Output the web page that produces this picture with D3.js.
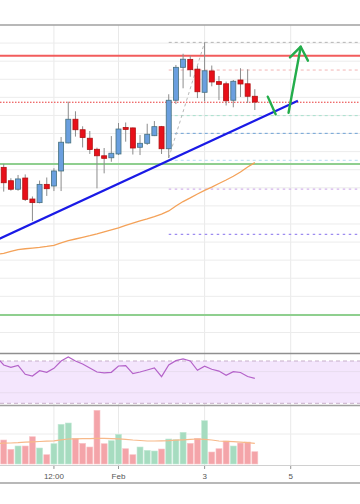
<!DOCTYPE html>
<html><head><meta charset="utf-8">
<script src="https://cdn.jsdelivr.net/npm/d3@7"></script>
<style>html,body{margin:0;padding:0;background:#fff;} svg{display:block;font-family:"Liberation Sans","DejaVu Sans",Arial,sans-serif;}</style>
</head><body><svg id="c" width="360" height="504"></svg>
<script>
// ---- data (4h candles, starting 2023-01-29 04:00 UTC) ----
const firstCandle = "2023-01-29T04:00:00Z";
const viewStart = "2023-01-29T05:56:00Z";
const viewEnd = "2023-02-06T14:38:00Z";
const openP  = [1608.0,1621.3,1613.9,1609.2,1615.4,1603.8,1601.8,1611.9,1611.0,1619.3,1634.8,1647.9,1642.1,1637.4,1631.3,1627.7,1626.6,1628.7,1643.3,1643.1,1632.4,1634.6,1638.8,1643.8,1631.6,1658.4,1676.6,1681.0,1675.6,1662.8,1674.6,1668.7,1667.5,1658.4,1669.6,1667.5,1660.6];
const highP  = [1624.0,1623.2,1615.3,1617.1,1617.4,1605.2,1614.0,1615.7,1620.8,1638.1,1657.6,1652.3,1644.0,1641.4,1632.2,1632.0,1638.6,1645.8,1646.1,1643.3,1639.2,1645.4,1646.9,1644.2,1661.7,1677.9,1684.1,1683.0,1677.3,1690.4,1677.6,1671.8,1668.7,1669.6,1676.1,1675.5,1664.5];
const lowP   = [1606.0,1607.9,1608.4,1608.4,1602.7,1591.6,1601.4,1605.5,1608.2,1608.2,1634.6,1638.3,1632.3,1628.7,1609.7,1618.0,1624.4,1628.1,1635.5,1628.4,1628.1,1633.7,1638.6,1628.7,1626.5,1656.3,1665.0,1671.4,1659.6,1657.8,1666.1,1658.5,1655.5,1654.5,1660.2,1656.9,1653.0];
const closeP = [1621.3,1612.8,1609.2,1614.9,1603.6,1601.8,1611.9,1609.5,1619.3,1635.2,1647.9,1642.1,1637.8,1631.2,1627.7,1626.3,1629.1,1642.5,1642.3,1632.0,1634.6,1639.6,1643.8,1631.6,1658.4,1676.6,1681.1,1675.3,1663.1,1674.7,1668.5,1667.2,1658.1,1668.9,1667.4,1660.6,1657.4];
const priceMA = [1573.2,1573.8,1574.8,1575.8,1576.3,1576.7,1577.1,1577.6,1578.2,1579.5,1580.8,1581.7,1582.6,1583.5,1584.5,1585.6,1586.7,1587.8,1589.2,1590.5,1591.7,1592.8,1594.1,1595.5,1597.2,1599.9,1602.4,1604.4,1606.6,1608.6,1610.4,1612.4,1614.3,1616.4,1618.7,1621.5,1623.9];
const volume = [30,24,14.7,18,18,27.3,16,9.3,20.3,39.7,41,25.7,20.7,17,53.7,20.3,23.3,29.7,15.3,9.3,17,13.7,13,15,25,24.3,31.7,20.7,25.7,43.3,12,15.3,23,18,21,22,12.3];
const volumeMA = [20.6,20.8,21.0,21.3,21.8,22.2,22.5,22.8,23.2,24.2,25.0,25.1,25.3,25.4,25.6,25.6,25.4,25.2,24.7,24.0,23.5,23.0,23.0,23.2,23.4,23.8,24.2,24.6,25.0,24.7,24.0,23.0,22.6,22.3,21.8,21.3,20.7];
const rsi = [73.8,66.2,64.0,65.9,57.4,55.8,60.8,59.3,63.1,70.0,73.8,70.0,67.2,63.4,59.6,58.7,59.3,65.3,65.6,58.0,59.6,61.5,63.4,55.2,66.2,70.3,71.9,70.0,61.2,65.0,62.2,60.5,56.5,59.9,59.1,55.3,53.6];
const tickDates = ["2023-01-30T12:00:00Z","2023-02-01T00:00:00Z","2023-02-03T00:00:00Z","2023-02-05T00:00:00Z"];
const tickLabels = ["12:00","Feb","3","5"];
const priceGrid = [1530,1540,1550,1560,1570,1580,1590,1600,1610,1620,1630,1640,1650,1660,1670,1680,1690];
// horizontal levels: price, colour, width, dash, start candle index (null = full width)
const levelPrice = [1690.4,1683.0,1675.1,1657.3,1649.9,1640.1,1625.2,1623.2,1609.3,1584.3,1539.7];
const levelColor = ["#b4b4b4","#f25c5c","#f2b4b4","#e83838","#a6e0cc","#6ea2d6","#b4dcf2","#8fcf8f","#d4b4ec","#9d8cf0","#8fcf8f"];
const levelWidth = [1,2,1,1,1,1,1,2,1.2,1.2,2];
const levelDash  = ["3,3",null,"3,3","1.5,1.5","3,3","3,3","3,3",null,"2.5,3.5","2.5,3.5",null];
const levelFrom  = [24,null,24,null,24,24,24,null,24,24,null];
// trend line (candle index, price)
const trendIdx = [0, 42];
const trendPrice = [1581.1, 1658.1];
// fib diagonal
const fibIdx = [24, 29];
const fibPrice = [1626.5, 1690.4];
// green arrow strokes (candle index, price)
const arrowA = [[37.8,1660.4],[38.9,1650.6]];
const arrowB = [[40.7,1651.5],[42.4,1688.0]];
const arrowHead = [[40.9,1682.1],[42.4,1688.0],[43.4,1680.3]];
const rsiGrid = [40,60];

// ---- scales ----
const W = 360;
const H4 = 4*3600*1000;
const t0 = new Date(firstCandle).getTime();
const tAt = i => new Date(t0 + i*H4);
const data = openP.map((o,i)=>({t:tAt(i),o,h:highP[i],l:lowP[i],c:closeP[i],ma:priceMA[i],v:volume[i],vma:volumeMA[i],rsi:rsi[i]}));

const x = d3.scaleUtc().domain([new Date(viewStart), new Date(viewEnd)]).range([0, W]);
const y = d3.scaleLinear().domain([1520,1700]).range([350.6,25]);
const vy = d3.scaleLinear().domain([0,58.7]).range([464,405.3]);
const ry = d3.scaleLinear().domain([30,70]).range([403.3,361]);

const svg = d3.select("#c");
const defs = svg.append("defs");
defs.append("clipPath").attr("id","mainClip").append("rect").attr("x",0).attr("y",25).attr("width",W).attr("height",327);
defs.append("clipPath").attr("id","rsiClip").append("rect").attr("x",0).attr("y",354).attr("width",W).attr("height",51);
defs.append("clipPath").attr("id","volClip").append("rect").attr("x",0).attr("y",406).attr("width",W).attr("height",60);

// vertical grid
svg.append("g").selectAll("line").data(tickDates).join("line")
  .attr("x1",d=>x(new Date(d))).attr("x2",d=>x(new Date(d)))
  .attr("y1",25).attr("y2",468).attr("stroke","#e9e9e9").attr("stroke-width",1);

// ---- main panel ----
const main = svg.append("g").attr("clip-path","url(#mainClip)");
main.append("g").selectAll("line").data(priceGrid).join("line")
  .attr("x1",0).attr("x2",W).attr("y1",d=>y(d)).attr("y2",d=>y(d))
  .attr("stroke","#ececec").attr("stroke-width",1);

levelPrice.forEach((p,k)=>{
  main.append("line")
    .attr("x1", levelFrom[k]===null ? 0 : x(tAt(levelFrom[k])))
    .attr("x2", W).attr("y1", y(p)).attr("y2", y(p))
    .attr("stroke", levelColor[k]).attr("stroke-width", levelWidth[k])
    .attr("stroke-dasharray", levelDash[k]);
});

main.append("line")
  .attr("x1",x(tAt(fibIdx[0]))).attr("y1",y(fibPrice[0]))
  .attr("x2",x(tAt(fibIdx[1]))).attr("y2",y(fibPrice[1]))
  .attr("stroke","#b8b8b8").attr("stroke-width",1).attr("stroke-dasharray","3,3");

main.append("path").datum(data)
  .attr("d", d3.line().x(d=>x(d.t)).y(d=>y(d.ma)))
  .attr("fill","none").attr("stroke","#f4a259").attr("stroke-width",1.3);

main.append("line")
  .attr("x1",x(tAt(trendIdx[0]))).attr("y1",y(trendPrice[0]))
  .attr("x2",x(tAt(trendIdx[1]))).attr("y2",y(trendPrice[1]))
  .attr("stroke","#1a1ae6").attr("stroke-width",2.2);

const cg = main.append("g").selectAll("g").data(data).join("g");
cg.append("line")
  .attr("x1",d=>x(d.t)).attr("x2",d=>x(d.t))
  .attr("y1",d=>y(d.h)).attr("y2",d=>y(d.l))
  .attr("stroke","#8c8c8c").attr("stroke-width",1);
cg.append("rect")
  .attr("x",d=>x(d.t)-2.5).attr("width",5)
  .attr("y",d=>y(Math.max(d.o,d.c)))
  .attr("height",d=>Math.max(1.5, Math.abs(y(d.o)-y(d.c))))
  .attr("fill",d=>d.c>=d.o ? "#6a9fdf" : "#e8101a")
  .attr("stroke",d=>d.c>=d.o ? "#46707e" : "#b01010")
  .attr("stroke-width",0.8);

const arrowLine = d3.line().x(d=>x(tAt(d[0]))).y(d=>y(d[1]));
[arrowA, arrowB, arrowHead].forEach(pts=>{
  main.append("path").attr("d", arrowLine(pts))
    .attr("fill","none").attr("stroke","#23ad4b").attr("stroke-width",2.4)
    .attr("stroke-linecap","round").attr("stroke-linejoin","round");
});

// top border
svg.append("line").attr("x1",0).attr("x2",W).attr("y1",25).attr("y2",25).attr("stroke","#a0a0a0").attr("stroke-width",1.3);

// ---- RSI panel ----
const rg = svg.append("g").attr("clip-path","url(#rsiClip)");
rg.append("rect").attr("x",0).attr("width",W).attr("y",ry(70)).attr("height",ry(30)-ry(70)).attr("fill","#f4e6fd");
rg.selectAll("line.g").data(rsiGrid).join("line")
  .attr("x1",0).attr("x2",W).attr("y1",d=>ry(d)).attr("y2",d=>ry(d))
  .attr("stroke","#e8dcef").attr("stroke-width",1);
[70,30].forEach(v=>{
  rg.append("line").attr("x1",0).attr("x2",W).attr("y1",ry(v)).attr("y2",ry(v))
    .attr("stroke","#c6aec9").attr("stroke-width",1).attr("stroke-dasharray","4,3");
});
rg.append("path").datum(data)
  .attr("d", d3.line().x(d=>x(d.t)).y(d=>ry(d.rsi)))
  .attr("fill","none").attr("stroke","#b462c9").attr("stroke-width",1.2);
svg.append("line").attr("x1",0).attr("x2",W).attr("y1",353.5).attr("y2",353.5).attr("stroke","#8f8f8f").attr("stroke-width",1.5);
svg.append("line").attr("x1",0).attr("x2",W).attr("y1",405.5).attr("y2",405.5).attr("stroke","#a0a0a0").attr("stroke-width",1.3);

// ---- Volume panel ----
const vg = svg.append("g").attr("clip-path","url(#volClip)");
vg.append("line").attr("x1",0).attr("x2",W).attr("y1",vy(30)).attr("y2",vy(30)).attr("stroke","#ececec");
vg.selectAll("rect").data(data).join("rect")
  .attr("x",d=>x(d.t)-3).attr("width",6)
  .attr("y",d=>vy(d.v)).attr("height",d=>vy(0)-vy(d.v))
  .attr("fill",d=>d.c>=d.o ? "#a6dcc0" : "#f4a4a9")
  .attr("stroke",d=>d.c>=d.o ? "#c4e9d6" : "#f8c6c9").attr("stroke-width",0.6);
vg.append("path").datum(data)
  .attr("d", d3.line().x(d=>x(d.t)).y(d=>vy(d.vma)))
  .attr("fill","none").attr("stroke","#f7b98a").attr("stroke-width",1.2);
svg.append("line").attr("x1",0).attr("x2",W).attr("y1",465.5).attr("y2",465.5).attr("stroke","#d0d0d0").attr("stroke-width",1);

// ---- x axis ----
const xa = svg.append("g");
xa.selectAll("line").data(tickDates).join("line")
  .attr("x1",d=>x(new Date(d))).attr("x2",d=>x(new Date(d)))
  .attr("y1",466).attr("y2",469).attr("stroke","#999");
xa.selectAll("text").data(tickDates).join("text")
  .attr("x",d=>x(new Date(d))).attr("y",478.5)
  .attr("text-anchor","middle").attr("font-size",8).attr("fill","#555")
  .text((d,i)=>tickLabels[i]);
svg.append("line").attr("x1",0).attr("x2",W).attr("y1",483).attr("y2",483).attr("stroke","#a0a0a0").attr("stroke-width",1.3);
</script></body></html>
